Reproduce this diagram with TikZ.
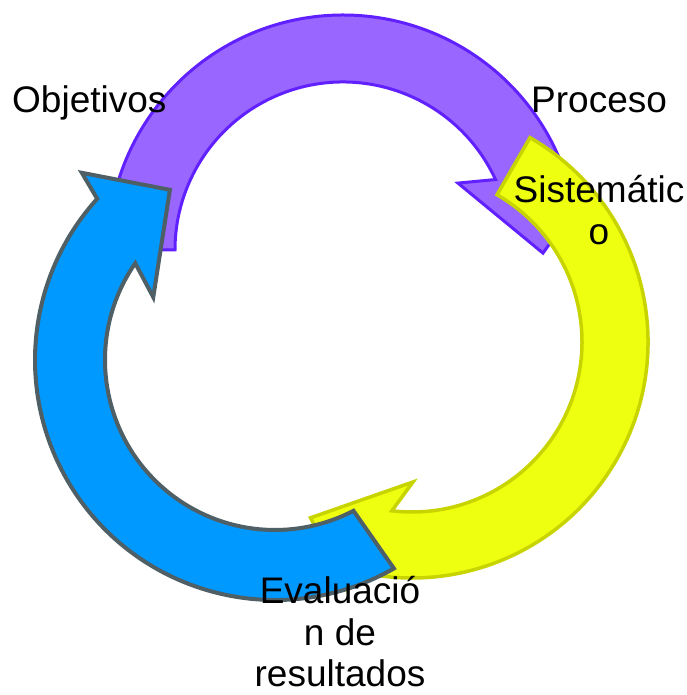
\documentclass[tikz,border=0pt]{standalone}
\usepackage{fontspec}
\setmainfont{Liberation Sans}
\usepackage{xcolor}
\usepackage{tikz}

\definecolor{violetfill}{HTML}{9966FF}
\definecolor{violetline}{HTML}{6020FF}
\definecolor{lemonfill}{HTML}{EEFF10}
\definecolor{lemonline}{HTML}{C8D400}
\definecolor{skyfill}{HTML}{0099FF}
\definecolor{skyline}{HTML}{4F5F66}

\begin{document}
\begin{tikzpicture}[x=1pt, y=1pt,
    purplearrow/.style={fill=violetfill, draw=violetline, line width=3pt},
    yellowarrow/.style={fill=lemonfill, draw=lemonline, line width=3.5pt},
    bluearrow/.style={fill=skyfill, draw=skyline, line width=4pt},
    cycletext/.style={inner sep=0pt, font=\fontsize{37}{41.5}\selectfont, align=center}]

    % Frame
    \useasboundingbox (0, 0) rectangle (686, 695);

    % Purple arrow
    \begin{scope}[shift={(343, 445)}]
        \filldraw[purplearrow] (180:235) arc[start angle=180, end angle=15.2, radius=235] -- (13.3:250) -- (-0.9:200) -- (30.2:133) -- (24.8:168) arc[start angle=24.8, end angle=180, radius=168] -- cycle;
    \end{scope}

    % Yellow arrow
    \begin{scope}[shift={(412, 353)}]
        \filldraw[yellowarrow] (60:236) arc[start angle=60, end angle=-107.7, radius=236] -- (-106:250) -- (-120:203) -- (-89.6:140) -- (-96.8:170) arc[start angle=-96.8, end angle=60, radius=170] -- cycle;
    \end{scope}

    % Blue arrow
    \begin{scope}[shift={(275, 335)}]
        \filldraw[bluearrow] (137.8:240) -- (135.9:269) -- (121.7:200) -- (152.7:137) -- (145.3:170) arc[start angle=145.3, end angle=297.5, radius=170] -- (299.7:240) arc[start angle=299.7, end angle=137.8, radius=240] -- cycle;
    \end{scope}

    % Labels
    \node[cycletext, anchor=base west] (obj) at (12, 582) {Objetivos};
    \node[cycletext, anchor=base west] (proc) at (531, 582) {Proceso};
    \node[cycletext] (sist) at (599, 485) {Sistemátic\\o};
    \node[cycletext] (eval) at (340, 63) {Evaluació\\n de\\resultados};

\end{tikzpicture}
\end{document}
